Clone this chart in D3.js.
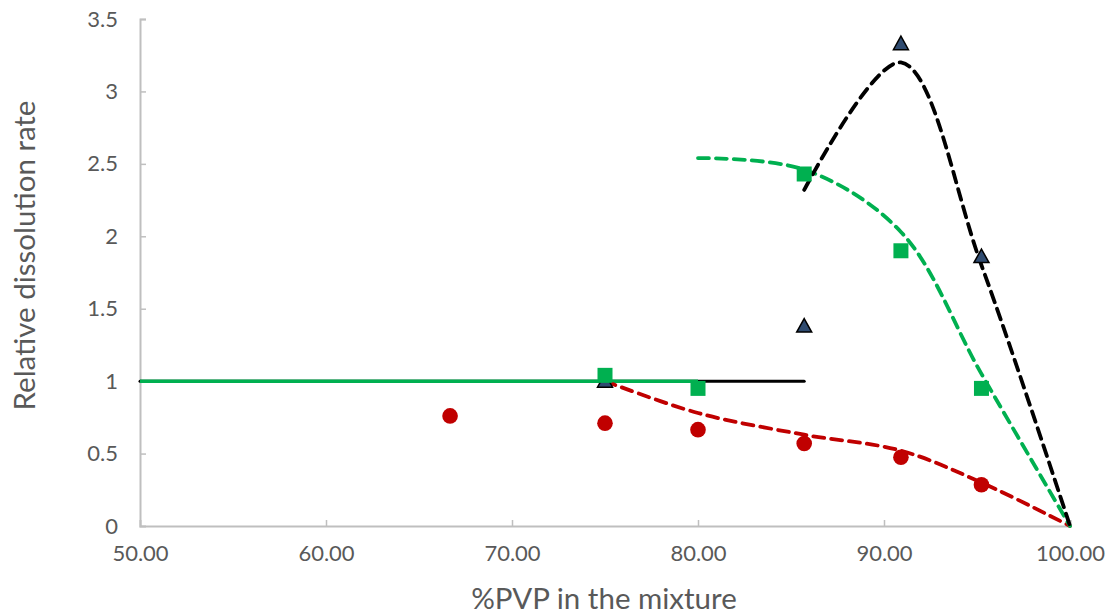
<!DOCTYPE html>
<html><head><meta charset="utf-8">
<script src="https://cdn.jsdelivr.net/npm/d3@7"></script>
<style>body{margin:0;background:#fff}svg{display:block}</style>
</head><body>
<script>
// ---- data ----
const xTicks = [50, 60, 70, 80, 90, 100];
const yTicks = [0, 0.5, 1, 1.5, 2, 2.5, 3, 3.5];

const redX = [66.67, 75, 80, 85.71, 90.91, 95.24];
const redY = [0.76, 0.71, 0.665, 0.57, 0.475, 0.285];
const redTrendX = [75, 80, 85.71, 90.91, 95.24, 100];
const redTrendY = [1.0, 0.78, 0.63, 0.52, 0.30, 0];

const blackX = [75, 85.71, 90.91, 95.24];
const blackY = [1.0, 1.38, 3.33, 1.86];
const blackFlatX = [50, 85.71];
const blackFlatY = [1, 1];
const blackTrendX = [85.71, 90.91, 95.24, 100];
const blackTrendY = [2.32, 3.2, 1.8, 0];

const greenX = [75, 80, 85.71, 90.91, 95.24];
const greenY = [1.04, 0.95, 2.43, 1.90, 0.95];
const greenFlatX = [50, 80];
const greenFlatY = [1, 1];
const greenTrendX = [80, 85.71, 90.91, 95.24, 100];
const greenTrendY = [2.54, 2.46, 2.03, 1.05, 0];

// ---- layout ----
const W = 1108, H = 614;
const m = {left: 140, right: 38, top: 19, bottom: 88};
const font = "Lato, 'Open Sans', sans-serif";
const svg = d3.select("body").append("svg").attr("width", W).attr("height", H);
const x = d3.scaleLinear().domain([50, 100]).range([m.left, W - m.right]);
const y = d3.scaleLinear().domain([0, 3.5]).range([H - m.bottom, m.top]);

const axisCol = "#bfbfbf", textCol = "#595959";

// y axis
const gy = svg.append("g").attr("transform", `translate(${m.left},0)`)
  .call(d3.axisLeft(y).tickValues(yTicks).tickSize(-6).tickPadding(22).tickFormat(d => String(d)));
// x axis
const gx = svg.append("g").attr("transform", `translate(0,${H - m.bottom})`)
  .call(d3.axisBottom(x).tickValues(xTicks).tickSize(-6).tickPadding(19).tickFormat(d3.format(".2f")));
[gx, gy].forEach(g => {
  g.select(".domain").attr("stroke", axisCol).attr("stroke-width", 2);
  g.selectAll(".tick line").attr("stroke", axisCol).attr("stroke-width", 1.5);
  g.selectAll(".tick text").attr("fill", textCol).style("font-family", font).style("font-size", "22px");
});
gx.selectAll(".tick").filter(d => d === 50).select("line").remove();
gy.selectAll(".tick").filter(d => d === 0).select("line").remove();

// titles
svg.append("text").attr("x", (m.left + W - m.right) / 2 - 1).attr("y", 609)
  .attr("text-anchor", "middle").attr("fill", textCol)
  .style("font-family", font).style("font-size", "29.5px").text("%PVP in the mixture");
svg.append("text").attr("transform", `translate(35,${(m.top + H - m.bottom) / 2 - 17}) rotate(-90)`)
  .attr("text-anchor", "middle").attr("fill", textCol)
  .style("font-family", font).style("font-size", "29.5px").text("Relative dissolution rate");

const zip = (a, b) => a.map((v, i) => [v, b[i]]);
const straight = d3.line().x(d => x(d[0])).y(d => y(d[1]));
const smooth = d3.line().x(d => x(d[0])).y(d => y(d[1])).curve(d3.curveCatmullRom.alpha(0.5));

const red = "#c00000", green = "#00b050", black = "#000000", navy = "#2f4b70";

// lines
svg.append("path").attr("d", straight(zip(blackFlatX, blackFlatY))).attr("fill", "none")
  .attr("stroke", black).attr("stroke-width", 3).attr("stroke-linecap", "round");
svg.append("path").attr("d", straight(zip(greenFlatX, greenFlatY))).attr("fill", "none")
  .attr("stroke", green).attr("stroke-width", 3.5);
svg.append("path").attr("d", smooth(zip(redTrendX, redTrendY))).attr("fill", "none")
  .attr("stroke", red).attr("stroke-width", 3.8).attr("stroke-dasharray", "11,7").attr("stroke-linecap", "round");
svg.append("path").attr("d", smooth(zip(greenTrendX, greenTrendY))).attr("fill", "none")
  .attr("stroke", green).attr("stroke-width", 3.8).attr("stroke-dasharray", "11,7").attr("stroke-linecap", "round");
svg.append("path").attr("d", smooth(zip(blackTrendX, blackTrendY))).attr("fill", "none")
  .attr("stroke", black).attr("stroke-width", 3.8).attr("stroke-dasharray", "11,7").attr("stroke-linecap", "round");

// markers
svg.append("g").selectAll("path").data(zip(blackX, blackY)).join("path")
  .attr("transform", d => `translate(${x(d[0])},${y(d[1])})`)
  .attr("d", "M0,-7.5 L7.5,6 L-7.5,6 Z").attr("fill", navy).attr("stroke", black).attr("stroke-width", 1.5);
svg.append("g").selectAll("circle").data(zip(redX, redY)).join("circle")
  .attr("cx", d => x(d[0])).attr("cy", d => y(d[1])).attr("r", 7.8).attr("fill", red);
svg.append("g").selectAll("rect").data(zip(greenX, greenY)).join("rect")
  .attr("x", d => x(d[0]) - 7.5).attr("y", d => y(d[1]) - 7.5).attr("width", 15).attr("height", 15).attr("fill", green);
</script>
</body></html>
